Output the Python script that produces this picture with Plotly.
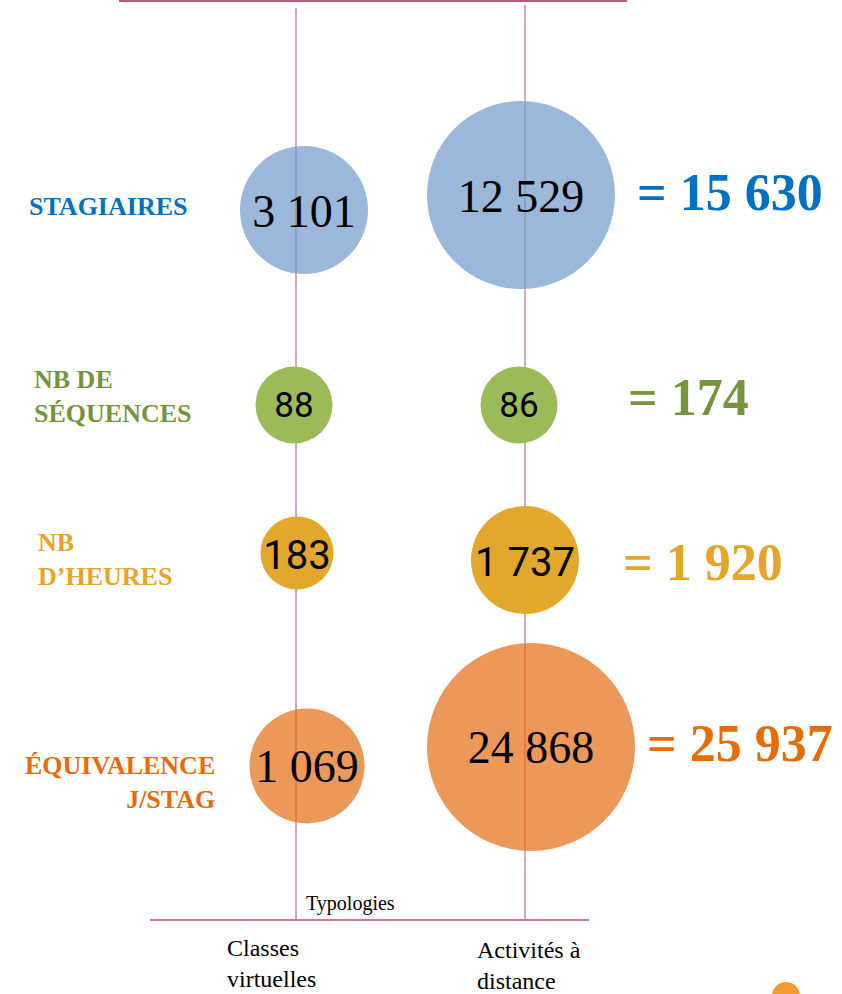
import plotly.graph_objects as go

# ---------------- data ----------------
CATEGORIES = ["Classes virtuelles", "Activités à distance"]
CATEGORY_LABELS = ["Classes<br>virtuelles", "Activités à<br>distance"]
METRICS = ["STAGIAIRES", "NB DE SÉQUENCES", "NB D’HEURES", "ÉQUIVALENCE J/STAG"]
METRIC_LABELS = ["STAGIAIRES", "NB DE<br>SÉQUENCES", "NB<br>D’HEURES", "ÉQUIVALENCE<br>J/STAG"]
CLASSES_VIRTUELLES = [3101, 88, 183, 1069]
ACTIVITES_A_DISTANCE = [12529, 86, 1737, 24868]
AXIS_TITLE = "Typologies"

# ---------------- layout / style ----------------
W, H = 842, 994
CAT_X = [296, 525]                 # category line positions
ROW_Y = [203, 405, 557, 757]       # row positions
BUBBLE_NUDGE_X = [[8, -4], [-2, -6], [1, 0], [11, 6]]
BUBBLE_NUDGE_Y = [[7, -8], [0, 0], [-4, 3], [9, -10]]
TEXT_DY = [5, 3, 6, 4]
BUBBLE_DIAM = [[128, 188], [77, 77], [73, 108], [115, 208]]
BUBBLE_FILL = ["rgba(112,154,204,0.7)", "#9BBB59", "#E3A82B", "rgba(228,108,19,0.7)"]
TEXT_COLORS = ["#0070C0", "#77933C", "#E3A52A", "#E46C0A"]
SERIF = "Liberation Serif, Times New Roman, serif"
NARROW = "Roboto, Liberation Sans, Arial, sans-serif"
ROW_FONT = [(SERIF, 46), (NARROW, 35), (NARROW, 40), (SERIF, 46)]
LABEL_X = [27, 32, 36, 217]
LABEL_ANCHOR = ["left", "left", "left", "right"]
LABEL_Y = [206, 396, 559, 782]
TOTAL_X = [635, 626, 621, 645]
TOTAL_Y = [192, 397, 562, 743]
CAT_LABEL_X = [225, 475]
CAT_LABEL_Y = [963, 965]
LINE_COLOR = "#b0507c"


def fmt(v):
    return f"{v:,}".replace(",", " ")


fig = go.Figure()

values_by_row = list(zip(CLASSES_VIRTUELLES, ACTIVITES_A_DISTANCE))
for i, metric in enumerate(METRICS):
    vals = values_by_row[i]
    fam, size = ROW_FONT[i]
    xs = [CAT_X[j] + BUBBLE_NUDGE_X[i][j] for j in range(2)]
    ys = [ROW_Y[i] + BUBBLE_NUDGE_Y[i][j] for j in range(2)]
    fig.add_trace(go.Scatter(
        x=xs, y=ys, mode="markers", name=metric,
        marker=dict(size=BUBBLE_DIAM[i], sizemode="diameter", color=BUBBLE_FILL[i],
                    opacity=1, line=dict(width=0)),
        text=[f"{c}: {fmt(v)}" for c, v in zip(CATEGORIES, vals)],
        hoverinfo="text", showlegend=False,
    ))
    fig.add_trace(go.Scatter(
        x=xs, y=[y + TEXT_DY[i] for y in ys], mode="text", name=metric,
        text=[fmt(v) for v in vals],
        textposition="middle center",
        textfont=dict(family=fam, size=size, color="black"),
        hoverinfo="skip", showlegend=False,
    ))

annotations = []
# row labels
for i, lab in enumerate(METRIC_LABELS):
    annotations.append(dict(
        x=LABEL_X[i], y=LABEL_Y[i], xref="x", yref="y", text=lab, showarrow=False,
        xanchor=LABEL_ANCHOR[i], yanchor="middle", align=LABEL_ANCHOR[i],
        font=dict(family=SERIF, size=26, color=TEXT_COLORS[i], weight="bold"),
    ))
# totals
for i in range(len(METRICS)):
    total = CLASSES_VIRTUELLES[i] + ACTIVITES_A_DISTANCE[i]
    annotations.append(dict(
        x=TOTAL_X[i], y=TOTAL_Y[i], xref="x", yref="y", text="= " + fmt(total),
        showarrow=False, xanchor="left", yanchor="middle",
        font=dict(family=SERIF, size=52, color=TEXT_COLORS[i], weight="bold"),
    ))
# axis title
annotations.append(dict(
    x=304, y=903, xref="x", yref="y", text=AXIS_TITLE, showarrow=False,
    xanchor="left", yanchor="middle", font=dict(family=SERIF, size=20, color="black"),
))
# category labels
for j, lab in enumerate(CATEGORY_LABELS):
    annotations.append(dict(
        x=CAT_LABEL_X[j], y=CAT_LABEL_Y[j], xref="x", yref="y", text=lab, showarrow=False,
        xanchor="left", yanchor="middle", align="left",
        font=dict(family=SERIF, size=24, color="black"),
    ))

shapes = [
    dict(type="line", xref="x", yref="y", x0=CAT_X[0], x1=CAT_X[0], y0=8, y1=919,
         line=dict(color=LINE_COLOR, width=1), layer="below"),
    dict(type="line", xref="x", yref="y", x0=CAT_X[1], x1=CAT_X[1], y0=5, y1=919,
         line=dict(color=LINE_COLOR, width=1), layer="below"),
    dict(type="line", xref="x", yref="y", x0=119, x1=627, y0=1, y1=1,
         line=dict(color="#b8587f", width=2), layer="below"),
    dict(type="line", xref="x", yref="y", x0=150, x1=589, y0=920, y1=920,
         line=dict(color=LINE_COLOR, width=1.5), layer="below"),
    dict(type="circle", xref="x", yref="y", x0=772, x1=800, y0=982, y1=1010,
         fillcolor="#F39B2E", line=dict(width=0), layer="below"),
]

fig.update_layout(
    width=W, height=H,
    margin=dict(l=0, r=0, t=0, b=0),
    paper_bgcolor="white", plot_bgcolor="white",
    xaxis=dict(range=[0, W], visible=False, fixedrange=True),
    yaxis=dict(range=[H, 0], visible=False, fixedrange=True),
    annotations=annotations,
    shapes=shapes,
    showlegend=False,
)

fig.write_html(
    "out.html",
    config={"displayModeBar": False},
    post_script="document.body.style.margin='0';document.body.style.overflow='hidden';",
)
